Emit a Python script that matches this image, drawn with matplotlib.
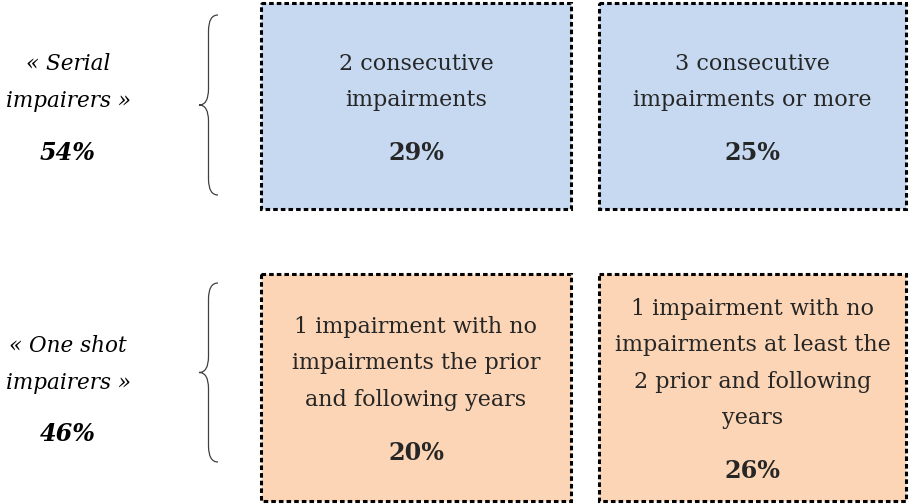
import matplotlib.pyplot as plt
from matplotlib.patches import Rectangle, PathPatch
from matplotlib.path import Path

# groups (left labels)
group_labels = [["« Serial", "impairers »"], ["« One shot", "impairers »"]]
group_shares = ["54%", "46%"]

# boxes, two per group
box_labels = [
    ["2 consecutive", "impairments"],
    ["3 consecutive", "impairments or more"],
    ["1 impairment with no", "impairments the prior", "and following years"],
    ["1 impairment with no", "impairments at least the",
     "2 prior and following", "years"],
]
box_shares = ["29%", "25%", "20%", "26%"]
box_group = [0, 0, 1, 1]

group_colors = ["#C6D9F1", "#FBD5B5"]
text_color = "#262626"
font = "DejaVu Serif"
fs = 16
fs_pct = 17.2

# layout in pixel space (y down)
box_x = [261, 599, 261, 599]
box_w = [310, 307, 310, 307]
group_y = [(3, 209), (274, 501)]
brace_y = [(15, 195), (283, 462)]
line_h = 36.5
share_gap = 53


def draw_brace(ax, x_right, y0, y1, depth=19):
    ym = (y0 + y1) / 2
    xb = x_right - depth / 2
    xt = x_right - depth
    r = 16
    verts = [
        (x_right, y0), (xb, y0), (xb, y0 + r),
        (xb, ym - r),
        (xb, ym), (xt, ym),
        (xb, ym), (xb, ym + r),
        (xb, y1 - r),
        (xb, y1), (x_right, y1),
    ]
    codes = [Path.MOVETO, Path.CURVE3, Path.CURVE3, Path.LINETO,
             Path.CURVE3, Path.CURVE3, Path.CURVE3, Path.CURVE3,
             Path.LINETO, Path.CURVE3, Path.CURVE3]
    ax.add_patch(PathPatch(Path(verts, codes), fill=False, lw=0.9,
                           edgecolor="#404040"))


fig = plt.figure(figsize=(9.1, 5.04), dpi=100)
ax = fig.add_axes([0, 0, 1, 1])
ax.set_xlim(0, 910)
ax.set_ylim(504, 0)
ax.axis("off")

for i, lines in enumerate(box_labels):
    g = box_group[i]
    y0, y1 = group_y[g]
    ax.add_patch(Rectangle((box_x[i], y0), box_w[i], y1 - y0,
                           facecolor=group_colors[g], edgecolor="black",
                           lw=2.2, linestyle=(0, (1.5, 1.0))))
    cx = box_x[i] + box_w[i] / 2
    n = len(lines)
    block_h = (n - 1) * line_h + share_gap
    top = (y0 + y1) / 2 - block_h / 2
    for k, line in enumerate(lines):
        ax.text(cx, top + k * line_h, line, ha="center",
                va="center_baseline", fontsize=fs, family=font,
                color=text_color)
    ax.text(cx, top + block_h, box_shares[i], ha="center",
            va="center_baseline", fontsize=fs_pct, family=font,
            fontweight="bold", color=text_color)

for g, lines in enumerate(group_labels):
    y0, y1 = group_y[g]
    mid = (y0 + y1) / 2
    for k, line in enumerate(lines):
        ax.text(68, mid - 44 + k * 37, line, ha="center",
                va="center_baseline", fontsize=15.5, family=font,
                style="italic", color="black")
    ax.text(68, mid + 44, group_shares[g], ha="center",
            va="center_baseline", fontsize=fs_pct, family=font,
            style="italic", fontweight="bold", color="black")
    draw_brace(ax, 218, *brace_y[g])

fig.savefig("out.png", dpi=100)
